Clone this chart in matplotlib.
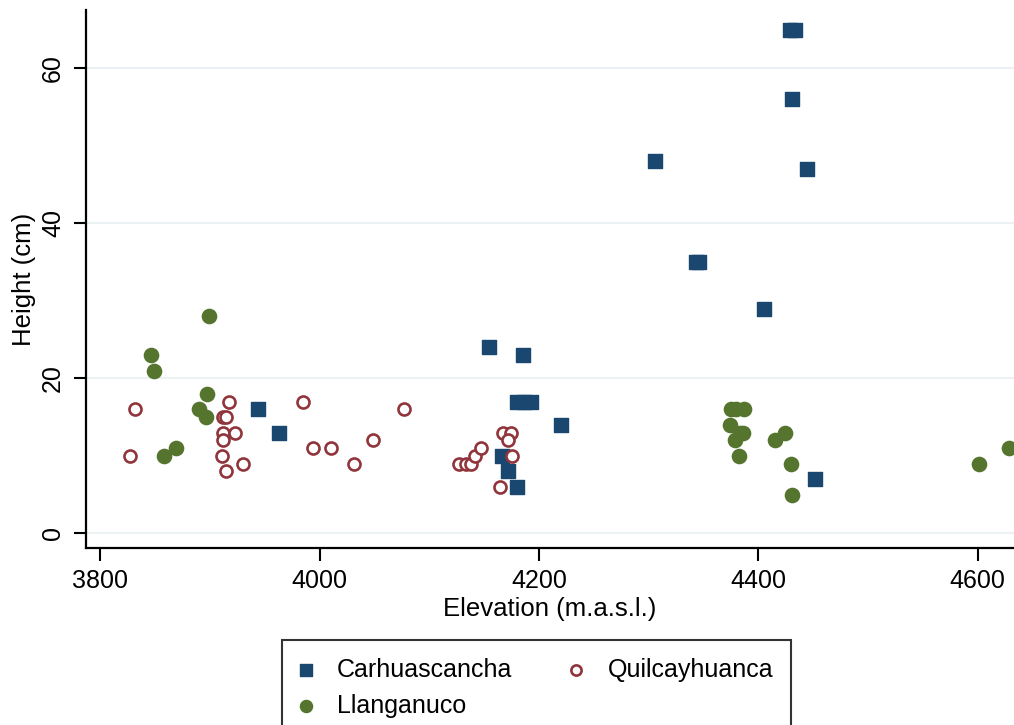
import matplotlib.pyplot as plt

# data (elevation m.a.s.l., height cm)
carh_x = [4429, 4433, 4431, 4444, 4306, 4343, 4346, 4405, 4154, 4185,
          4180, 4186, 4193, 4220, 3944, 3963, 4166, 4172, 4180, 4452]
carh_y = [65, 65, 56, 47, 48, 35, 35, 29, 24, 23,
          17, 17, 17, 14, 16, 13, 10, 8, 6, 7]

quil_x = [3832, 3827, 3917, 3912, 3915, 3912, 3923, 3912, 3911, 3930,
          3915, 3985, 3994, 4010, 4049, 4031, 4077, 4127, 4133, 4138,
          4142, 4147, 4167, 4174, 4172, 4175, 4164]
quil_y = [16, 10, 17, 15, 15, 13, 13, 12, 10, 9,
          8, 17, 11, 11, 12, 9, 16, 9, 9, 9,
          10, 11, 13, 13, 12, 10, 6]

llan_x = [3899, 3846, 3849, 3897, 3890, 3896, 3869, 3858, 4375, 4380,
          4387, 4374, 4383, 4386, 4379, 4382, 4415, 4424, 4430, 4431,
          4601, 4628]
llan_y = [28, 23, 21, 18, 16, 15, 11, 10, 16, 16,
          16, 14, 13, 13, 12, 10, 12, 13, 9, 5,
          9, 11]

xticks = [3800, 4000, 4200, 4400, 4600]
yticks = [0, 20, 40, 60]

NAVY = '#1a476f'
MAROON = '#90353b'
GREEN = '#55752f'

plt.rcParams['font.family'] = ['Liberation Sans', 'DejaVu Sans']

fig = plt.figure(figsize=(10.14, 7.25), dpi=100)
ax = fig.add_axes([0.0848, 0.2441, 0.9152, 0.7419])

ax.scatter(carh_x, carh_y, marker='s', s=115, color=NAVY, zorder=3,
           label='Carhuascancha')
ax.scatter(quil_x, quil_y, marker='o', s=75, facecolors='white',
           edgecolors=MAROON, linewidths=1.9, zorder=3, label='Quilcayhuanca')
ax.scatter(llan_x, llan_y, marker='o', s=105, color=GREEN, zorder=3,
           label='Llanganuco')

ax.set_xlim(3787, 4633)
ax.set_ylim(-1.9, 67.5)
ax.set_xticks(xticks)
ax.set_yticks(yticks)
ax.grid(axis='y', color='#eaf2f3', linewidth=1.5, zorder=0)
ax.set_axisbelow(True)

for side in ['top', 'right']:
    ax.spines[side].set_visible(False)
for side in ['left', 'bottom']:
    ax.spines[side].set_linewidth(1.6)

ax.tick_params(axis='both', length=9, width=1.5, labelsize=18)
ax.tick_params(axis='x', pad=6)
ax.tick_params(axis='y', pad=6)
for lab in ax.get_yticklabels():
    lab.set_rotation(90)
    lab.set_va('center')

ax.set_xlabel('Elevation (m.a.s.l.)', fontsize=18.5, labelpad=3)
ax.set_ylabel('Height (cm)', fontsize=18.5, labelpad=4)

handles, labels = ax.get_legend_handles_labels()
order = [0, 2, 1]
leg = fig.legend([handles[i] for i in order], [labels[i] for i in order],
                 loc='upper center', bbox_to_anchor=(0.529, 0.1172), ncol=2,
                 fontsize=18, frameon=True, fancybox=False, markerscale=0.85,
                 handlelength=0.5, handletextpad=1.0, columnspacing=2.3,
                 borderpad=0.7, labelspacing=0.5, borderaxespad=0)
leg.get_frame().set_edgecolor('black')
leg.get_frame().set_linewidth(1.5)

plt.savefig('out.png', dpi=100)
